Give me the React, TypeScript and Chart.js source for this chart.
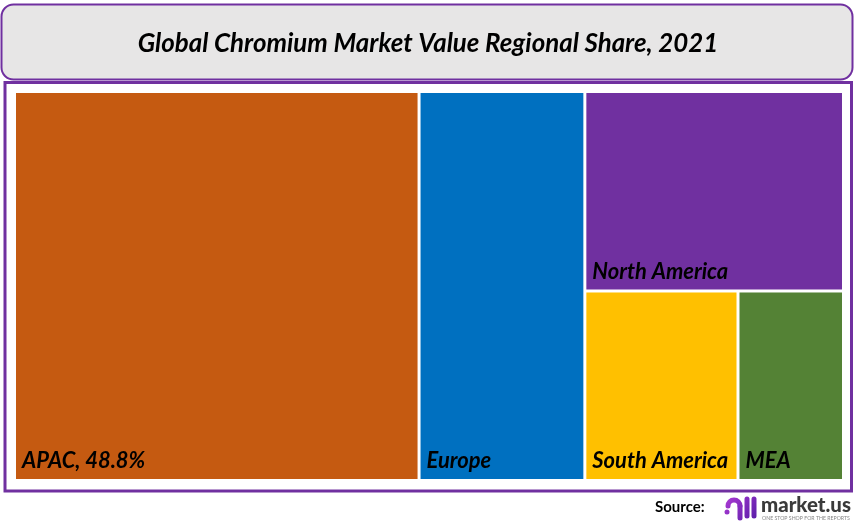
import React, { useEffect, useRef } from "react";
import { Chart, registerables } from "chart.js";

Chart.register(...registerables);

const TITLE = "Global Chromium Market Value Regional Share, 2021";
const regions = ["APAC", "Europe", "North America", "South America", "MEA"];
const shares = [48.8, 20.0, 16.0, 9.0, 6.2];
const colors = ["#c55a11", "#0070c0", "#7030a0", "#ffc000", "#548235"];
const labels = ["APAC, 48.8%", "Europe", "North America", "South America", "MEA"];

type Rect = { x0: number; x1: number; y0: number; y1: number };

// Treemap layout in data units (0..100 on both axes), derived from shares
function layout(values: number[]): Rect[] {
  const total = values.reduce((a, b) => a + b, 0);
  const a = (values[0] / total) * 100;
  const e = (values[1] / total) * 100;
  const rest = values[2] + values[3] + values[4];
  const naH = (values[2] / rest) * 100;
  const saW = values[3] / (values[3] + values[4]);
  const xr0 = a + e;
  const xs = xr0 + saW * (100 - xr0);
  return [
    { x0: 0, x1: a, y0: 0, y1: 100 },
    { x0: a, x1: a + e, y0: 0, y1: 100 },
    { x0: xr0, x1: 100, y0: 100 - naH, y1: 100 },
    { x0: xr0, x1: xs, y0: 0, y1: 100 - naH },
    { x0: xs, x1: 100, y0: 0, y1: 100 - naH },
  ];
}

const FONT = "Lato, 'Open Sans', sans-serif";

function roundRect(ctx: CanvasRenderingContext2D, x: number, y: number, w: number, h: number, r: number) {
  ctx.beginPath();
  ctx.moveTo(x + r, y);
  ctx.lineTo(x + w - r, y);
  ctx.arcTo(x + w, y, x + w, y + r, r);
  ctx.lineTo(x + w, y + h - r);
  ctx.arcTo(x + w, y + h, x + w - r, y + h, r);
  ctx.lineTo(x + r, y + h);
  ctx.arcTo(x, y + h, x, y + h - r, r);
  ctx.lineTo(x, y + r);
  ctx.arcTo(x, y, x + r, y, r);
  ctx.closePath();
}

function fitFont(ctx: CanvasRenderingContext2D, text: string, style: string, target: number) {
  ctx.font = `${style} 20px ${FONT}`;
  const w = ctx.measureText(text).width;
  return (20 * target) / w;
}

const treemapPlugin = {
  id: "treemap",
  beforeDraw(chart: any) {
    const ctx: CanvasRenderingContext2D = chart.ctx;
    ctx.save();
    ctx.fillStyle = "#ffffff";
    ctx.fillRect(0, 0, chart.width, chart.height);

    // title box
    roundRect(ctx, 1.5, 4.5, 851, 75, 12);
    ctx.fillStyle = "#e7e6e6";
    ctx.fill();
    ctx.strokeStyle = "#7030a0";
    ctx.lineWidth = 2;
    ctx.stroke();
    const ts = fitFont(ctx, TITLE, "italic bold", 581);
    ctx.font = `italic bold ${ts}px ${FONT}`;
    ctx.fillStyle = "#000";
    ctx.textAlign = "center";
    ctx.textBaseline = "middle";
    ctx.fillText(TITLE, 428, 44);

    // outer frame
    ctx.strokeStyle = "#7030a0";
    ctx.lineWidth = 3;
    ctx.strokeRect(5, 82.5, 846.5, 408.5);
    ctx.restore();
  },
  afterDatasetsDraw(chart: any) {
    const ctx: CanvasRenderingContext2D = chart.ctx;
    const xs = chart.scales.x;
    const ys = chart.scales.y;
    const rects = layout(shares);
    const g = 1.5;
    ctx.save();
    const ls = fitFont(ctx, "South America", "italic bold", 136);
    rects.forEach((r, i) => {
      const px0 = xs.getPixelForValue(r.x0) + g;
      const px1 = xs.getPixelForValue(r.x1) - g;
      const py0 = ys.getPixelForValue(r.y1) + g;
      const py1 = ys.getPixelForValue(r.y0) - g;
      ctx.fillStyle = colors[i];
      ctx.fillRect(px0, py0, px1 - px0, py1 - py0);
      ctx.font = `italic bold ${ls}px ${FONT}`;
      ctx.fillStyle = "#000";
      ctx.textAlign = "left";
      ctx.textBaseline = "middle";
      ctx.fillText(labels[i], px0 + 6, py1 - 18);
    });

    // source
    ctx.font = `bold 15px ${FONT}`;
    ctx.fillStyle = "#000";
    ctx.textAlign = "left";
    ctx.textBaseline = "middle";
    ctx.fillText("Source:", 655, 507);

    // logo icon
    const grad = ctx.createLinearGradient(724, 495, 756, 520);
    grad.addColorStop(0, "#b03bd6");
    grad.addColorStop(1, "#5a1ea8");
    ctx.fillStyle = grad;
    ctx.strokeStyle = grad;
    ctx.lineCap = "round";
    ctx.lineWidth = 5;
    ctx.beginPath();
    ctx.arc(734, 506, 6, Math.PI, 0);
    ctx.stroke();
    ctx.beginPath();
    ctx.moveTo(740, 506);
    ctx.lineTo(740, 518);
    ctx.stroke();
    ctx.beginPath();
    ctx.moveTo(747, 499);
    ctx.lineTo(747, 516);
    ctx.stroke();
    ctx.beginPath();
    ctx.moveTo(754, 499);
    ctx.lineTo(754, 516);
    ctx.stroke();
    ctx.beginPath();
    ctx.arc(727, 512, 2.5, 0, Math.PI * 2);
    ctx.fill();

    const ms = fitFont(ctx, "market.us", "900", 90);
    ctx.font = `900 ${ms}px ${FONT}`;
    ctx.fillStyle = "#3a3a3a";
    ctx.fillText("market.us", 761, 505);
    const tg = fitFont(ctx, "ONE STOP SHOP FOR THE REPORTS", "", 88);
    ctx.font = `${tg}px ${FONT}`;
    ctx.fillStyle = "#888";
    ctx.fillText("ONE STOP SHOP FOR THE REPORTS", 762, 518);
    ctx.restore();
  },
};

export default function App() {
  const ref = useRef<HTMLCanvasElement | null>(null);
  useEffect(() => {
    document.body.style.margin = "0";
    if (!ref.current) return;
    const chart = new Chart(ref.current, {
      type: "scatter",
      data: {
        datasets: [
          {
            label: "Share",
            data: regions.map(() => ({ x: 0, y: 0 })),
            pointRadius: 0,
            showLine: false,
          },
        ],
      },
      options: {
        animation: false,
        responsive: false,
        maintainAspectRatio: false,
        layout: { padding: { left: 14.5, right: 12.5, top: 91.5, bottom: 44.5 } },
        plugins: { legend: { display: false }, tooltip: { enabled: false } },
        scales: {
          x: { type: "linear", min: 0, max: 100, display: false },
          y: { type: "linear", min: 0, max: 100, display: false },
        },
      },
      plugins: [treemapPlugin],
    });
    return () => chart.destroy();
  }, []);
  return (
    <div style={{ width: 856, height: 525 }}>
      <canvas ref={ref} width={856} height={525} style={{ display: "block" }} />
    </div>
  );
}
